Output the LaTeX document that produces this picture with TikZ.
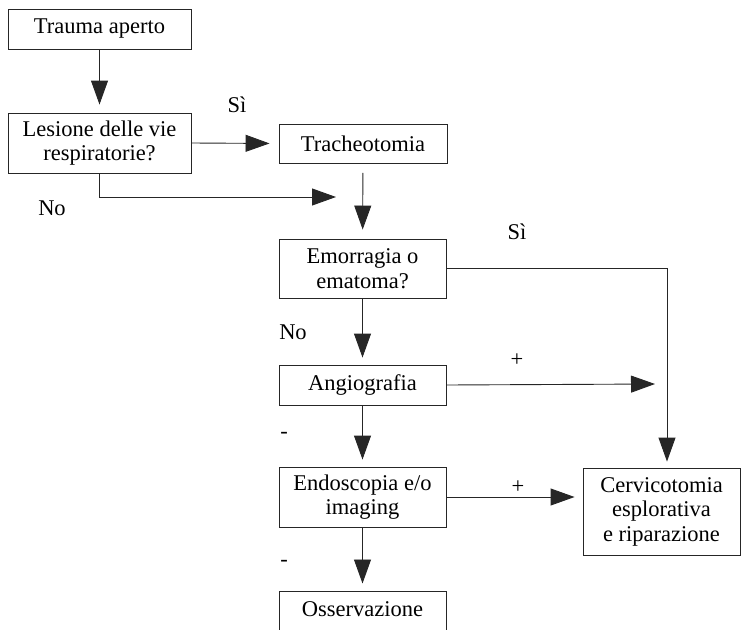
\documentclass[tikz,border=0pt]{standalone}
\usepackage{fontspec}
\setmainfont{Liberation Serif}
\usetikzlibrary{arrows.meta}
\begin{document}
\begin{tikzpicture}[x=1pt,y=-1pt,
  box/.style={draw=black!85,line width=0.9pt,rectangle,inner sep=0pt,align=center,
    font=\fontsize{22.5}{24.5}\selectfont},
  lbl/.style={font=\fontsize{22.5}{24.5}\selectfont,inner sep=0pt},
  arr/.style={draw=black!85,line width=0.9pt,-{Triangle[length=24pt,width=17pt]}}]
\useasboundingbox (0,0) rectangle (741,629);
\clip (0,0) rectangle (741,629);
\node[box,minimum width=183pt,minimum height=40pt] (tra) at (99.5,29) {Trauma aperto};
\node[box,minimum width=183pt,minimum height=60pt] (les) at (99.5,143) {Lesione delle vie\\respiratorie?};
\node[box,minimum width=168pt,minimum height=39pt] (tri) at (363,143.5) {Tracheotomia};
\node[box,minimum width=167pt,minimum height=59pt] (emo) at (362.5,268.5) {Emorragia o\\ematoma?};
\node[box,minimum width=167pt,minimum height=40pt] (ang) at (362.5,385) {Angiografia};
\node[box,minimum width=167pt,minimum height=60pt] (end) at (362.5,497) {Endoscopia e/o\\imaging};
\node[box,minimum width=167pt,minimum height=40pt,anchor=north] (oss) at (362.5,590.5) {\raisebox{4pt}{Osservazione}};
\node[box,minimum width=157pt,minimum height=87pt] (cer) at (661.5,511.5) {Cervicotomia\\esplorativa\\e riparazione};
\coordinate (nojoin) at (336,197);
\coordinate (angend) at (655,384);
\draw[arr,shorten >=8pt] (tra) -- (les);
\draw[arr,shorten >=9pt] (les.east) -- (tri.west);
\draw[arr] (les.south) |- (nojoin);
\draw[arr,shorten <=9.5pt,shorten >=9pt] (tri) -- (emo);
\draw[arr,shorten >=6pt] (emo.east) -| ([xshift=5.5pt]cer.north);
\draw[arr,shorten >=7pt] (emo) -- (ang);
\draw[arr] (ang.east) -- (angend);
\draw[arr,shorten >=7pt] (ang) -- (end);
\draw[arr,shorten >=8pt] (end.east) -- (end.east -| cer.west);
\draw[arr,shorten >=7pt] (end) -- (oss);
\node[lbl] (si1) at (237,105) {Sì};
\node[lbl] (no1) at (52,208) {No};
\node[lbl] (si2) at (517,232) {Sì};
\node[lbl] (no2) at (293,332) {No};
\node[lbl] (p1) at (517,360) {+};
\node[lbl] (m1) at (284,435) {-};
\node[lbl] (p2) at (518,487) {+};
\node[lbl] (m2) at (284,563) {-};
\end{tikzpicture}
\end{document}
